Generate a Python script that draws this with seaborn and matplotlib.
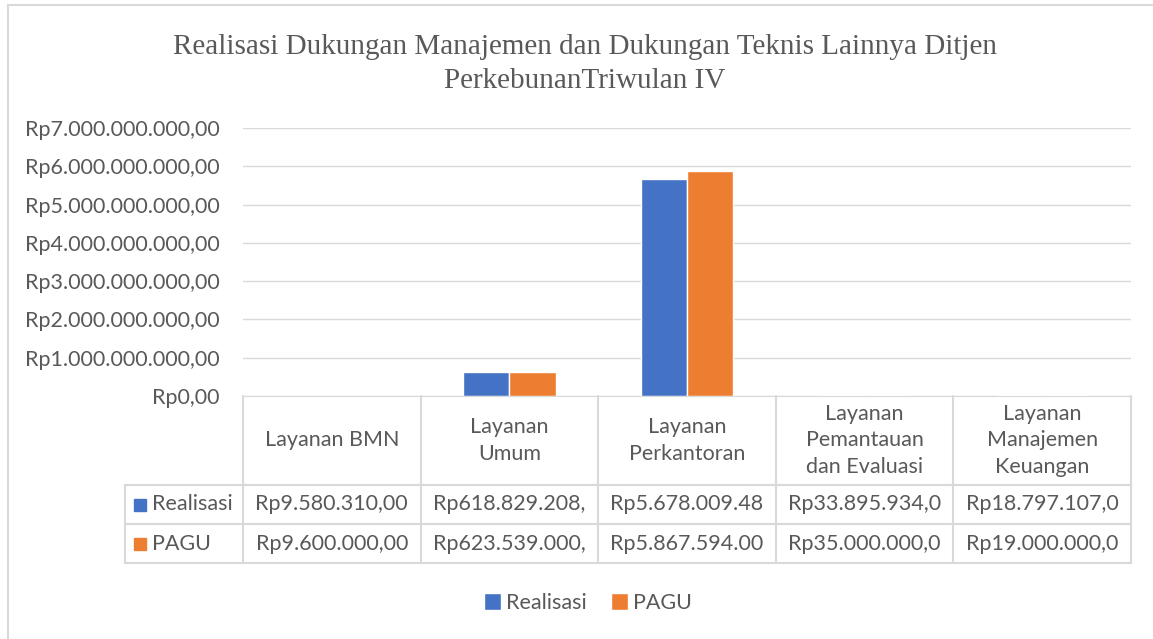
import seaborn as sns
import matplotlib.pyplot as plt
import pandas as pd
from matplotlib.patches import Rectangle, Patch
from matplotlib.ticker import FuncFormatter, MultipleLocator
import matplotlib.transforms as mtransforms

# Data
kategori = ["Layanan BMN", "Layanan Umum", "Layanan Perkantoran",
            "Layanan Pemantauan dan Evaluasi", "Layanan Manajemen Keuangan"]
header_label = ["Layanan BMN", "Layanan\nUmum", "Layanan\nPerkantoran",
                "Layanan\nPemantauan\ndan Evaluasi", "Layanan\nManajemen\nKeuangan"]
realisasi = [9580310, 618829208, 5678009480, 33895934, 18797107]
pagu = [9600000, 623539000, 5867594000, 35000000, 19000000]
# teks sel tabel seperti tampil (terpotong di Excel)
realisasi_txt = ["Rp9.580.310,00", "Rp618.829.208,", "Rp5.678.009.48",
                 "Rp33.895.934,0", "Rp18.797.107,0"]
pagu_txt = ["Rp9.600.000,00", "Rp623.539.000,", "Rp5.867.594.00",
            "Rp35.000.000,0", "Rp19.000.000,0"]
seri = ["Realisasi", "PAGU"]
warna = ["#4472C4", "#ED7D31"]

df = pd.DataFrame({
    "kategori": kategori * 2,
    "nilai": realisasi + pagu,
    "seri": [seri[0]] * 5 + [seri[1]] * 5,
})

sns.set_style("white")
plt.rcParams['font.family'] = ['Lato', 'DejaVu Sans']
teks = "#595959"
garis = "#D9D9D9"
fs = 15.5

W, H = 1153, 639
fig = plt.figure(figsize=(W / 100, H / 100), dpi=100)

# bingkai chart
fig.patches.append(Rectangle((8 / W, -0.1), 1.2, 1 - 5 / H + 0.1, transform=fig.transFigure,
                             fill=False, edgecolor=garis, linewidth=1.5))

x0, x1, y0, y1 = 243, 1131, 396, 128
ax = fig.add_axes([x0 / W, 1 - y0 / H, (x1 - x0) / W, (y0 - y1) / H])

sns.barplot(data=df, x="kategori", y="nilai", hue="seri", palette=warna,
            width=0.52, gap=0, saturation=1, legend=False, ax=ax)

ax.set_xlim(-0.5, 4.5)
ax.set_ylim(0, 7e9)
ax.yaxis.set_major_locator(MultipleLocator(1e9))
ax.yaxis.set_major_formatter(FuncFormatter(
    lambda v, p: "Rp" + f"{int(round(v)):,}".replace(",", ".") + ",00"))
ax.grid(axis="y", color=garis, linewidth=1)
ax.set_axisbelow(True)
ax.set_xticks([])
ax.set_xlabel("")
ax.set_ylabel("")
for s in ["top", "right", "left"]:
    ax.spines[s].set_visible(False)
ax.spines["bottom"].set_color(garis)
ax.tick_params(axis="y", length=0, pad=17, labelsize=fs, labelcolor=teks)

fig.text(585 / W, 1 - 64 / H,
         "Realisasi Dukungan Manajemen dan Dukungan Teknis Lainnya Ditjen\nPerkebunanTriwulan IV",
         ha="center", va="center", fontsize=21, family="Liberation Serif", color=teks,
         linespacing=1.35)

# tabel data di bawah sumbu
tr = mtransforms.blended_transform_factory(ax.transData, ax.transAxes)
ph = y0 - y1
def fy(py):
    return (y0 - py) / ph

def fx(px):
    return (px - x0) / (x1 - x0) * 5 - 0.5

r0, r1, r2, r3 = fy(396), fy(485), fy(524), fy(563)
xl = fx(125)
lw = 1.5
# garis horizontal
ax.plot([-0.5, 4.5], [r1, r1], transform=tr, color=garis, lw=lw, clip_on=False)
for r in [r1, r2, r3]:
    ax.plot([xl, 4.5], [r, r], transform=tr, color=garis, lw=lw, clip_on=False)
# garis vertikal
for i in range(6):
    ax.plot([i - 0.5, i - 0.5], [r0, r3], transform=tr, color=garis, lw=lw, clip_on=False)
ax.plot([xl, xl], [r1, r3], transform=tr, color=garis, lw=lw, clip_on=False)

for i in range(5):
    ax.text(i, (r0 + r1) / 2, header_label[i], transform=tr, ha="center", va="center",
            fontsize=fs, color=teks, linespacing=1.38)
    ax.text(i, (r1 + r2) / 2, realisasi_txt[i], transform=tr, ha="center", va="center",
            fontsize=fs, color=teks)
    ax.text(i, (r2 + r3) / 2, pagu_txt[i], transform=tr, ha="center", va="center",
            fontsize=fs, color=teks)

for j, (nama, c) in enumerate(zip(seri, warna)):
    yc = [(r1 + r2) / 2, (r2 + r3) / 2][j]
    ax.plot([fx(139.5)], [yc], transform=tr, marker="s", markersize=8.5, color=c, clip_on=False)
    ax.text(fx(152), yc, nama, transform=tr, ha="left", va="center", fontsize=fs, color=teks)

handles = [Patch(facecolor=c, label=n) for n, c in zip(seri, warna)]
fig.legend(handles=handles, loc="center", bbox_to_anchor=(588 / W, 1 - 603 / H), ncol=2,
           frameon=False, fontsize=fs, labelcolor=teks, handlelength=0.8, handleheight=0.8,
           handletextpad=0.25, columnspacing=1.1)

fig.savefig("out.png", dpi=100, facecolor="white")
